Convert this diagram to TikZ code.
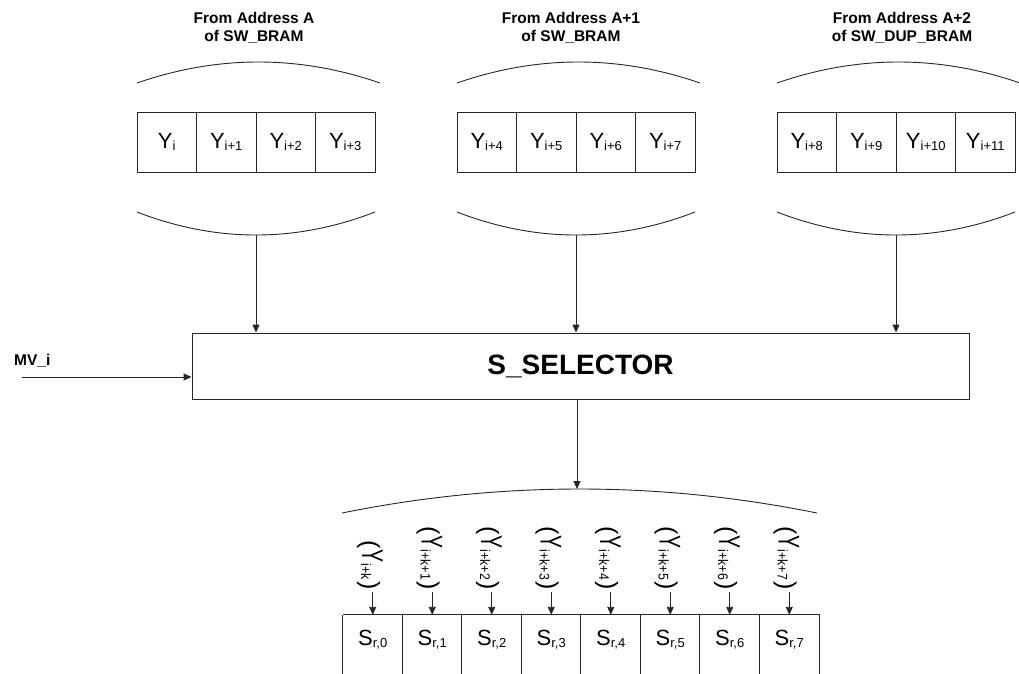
\documentclass[tikz,border=0pt]{standalone}
\usepackage{fontspec}
\setmainfont{Liberation Sans}
\usetikzlibrary{arrows.meta}

% font size helper and a lowered small index after a symbol
\newcommand\fsz[1]{\fontsize{#1}{#1}\selectfont}
\newcommand\idx[2]{#1{\fsz{13}\raisebox{-2pt}{#2}}}
% tall, narrow lettering for the vertical labels: (Y_index)
\newcommand\tallidx[1]{%
  {\fsz{25}(}\kern1pt
  \scalebox{0.65}[1]{\fsz{30}Y}\kern1.5pt
  \scalebox{0.88}[1]{\fsz{14}\raisebox{-1pt}{#1}}\kern1.5pt
  {\fsz{25})}}

\tikzset{
  wire/.style={line width=0.9pt, draw=black!85},
  arr/.style={wire, -{Triangle[length=8pt,width=7pt]}},
  cell/.style={wire, draw, minimum width=59.5pt, minimum height=60pt,
               inner sep=0pt, font=\fsz{22}},
  cellS/.style={minimum width=59.5pt, minimum height=50pt,
               inner sep=0pt, font=\fsz{22}},
  title/.style={font=\bfseries\fontsize{15.5}{17.5}\selectfont, align=center},
  rlab/.style={rotate=-90, anchor=east, inner sep=0pt,
               text height=21.5pt, text depth=0pt},
}

\begin{document}
\begin{tikzpicture}[x=1pt,y=-1pt]
\useasboundingbox (0,0) rectangle (1019,673);
\clip (0,0) rectangle (1019,673);

% ---- source words ----
\node[title] (t1) at (254,28) {From Address A\\of SW\_BRAM};
\node[title] (t2) at (571,28) {From Address A+1\\of SW\_BRAM};
\node[title] (t3) at (902,28) {From Address A+2\\of SW\_DUP\_BRAM};

% braces above and below each word (left edges 137, 457, 777)
\foreach \L in {137,457,777}{
  \draw[wire] (\L,83) .. controls (\L+81,55) and (\L+162,55) .. (\L+243,83);
  \draw[wire] (\L,212) .. controls (\L+79.33,242.67) and (\L+158.67,242.67) .. (\L+238,212);
}
\coordinate (b1) at (256,235);
\coordinate (b2) at (576,235);
\coordinate (b3) at (896,235);

% word cells
\node[cell] (y0)  at (166.75,142) {\idx{Y}{i}};
\node[cell] (y1)  at (226.25,142) {\idx{Y}{i+1}};
\node[cell] (y2)  at (285.75,142) {\idx{Y}{i+2}};
\node[cell] (y3)  at (345.25,142) {\idx{Y}{i+3}};
\node[cell] (y4)  at (486.75,142) {\idx{Y}{i+4}};
\node[cell] (y5)  at (546.25,142) {\idx{Y}{i+5}};
\node[cell] (y6)  at (605.75,142) {\idx{Y}{i+6}};
\node[cell] (y7)  at (665.25,142) {\idx{Y}{i+7}};
\node[cell] (y8)  at (806.75,142) {\idx{Y}{i+8}};
\node[cell] (y9)  at (866.25,142) {\idx{Y}{i+9}};
\node[cell] (y10) at (925.75,142) {\idx{Y}{i+10}};
\node[cell] (y11) at (985.25,142) {\idx{Y}{i+11}};

% ---- selector ----
\node[wire, draw, minimum width=777pt, minimum height=66pt, inner sep=0pt,
      font=\bfseries\fsz{28}] (sel) at (580.5,366) {S\_SELECTOR};

\draw[arr] (b1) -- (b1 |- sel.north);
\draw[arr] (b2) -- (b2 |- sel.north);
\draw[arr] (b3) -- (b3 |- sel.north);

\node[font=\bfseries\fsz{15.5}, anchor=west, inner sep=0pt] (mv) at (14,361) {MV\_i};
\coordinate (mvs) at (22,377);
\draw[arr] (mvs) -- (mvs -| sel.west);

% ---- result row ----
\draw[wire] (342,513) .. controls (500.33,481) and (658.67,481) .. (817,513);
\coordinate (rtop) at (577,489);
\draw[arr] (rtop |- sel.south) -- (rtop);

\foreach \k in {0,...,7}{
  \node[cellS] (s\k) at (372.75+59.5*\k,640) {\idx{S}{r,\k}};
  \draw[wire] (s\k.north west) -- ++(0,70);
}
\draw[wire] (s0.north west) -- (s7.north east) -- ++(0,70);

\node[rlab] (l0) at (s0.north |- 0,590) {\tallidx{i+k}};
\foreach \k in {1,...,7}{
  \node[rlab] (l\k) at (s\k.north |- 0,590) {\tallidx{i+k+\k}};
}
\foreach \k in {0,...,7}{
  \draw[arr] ([yshift=-2pt]s\k.north |- l\k.east) -- (s\k.north);
}
\end{tikzpicture}
\end{document}
